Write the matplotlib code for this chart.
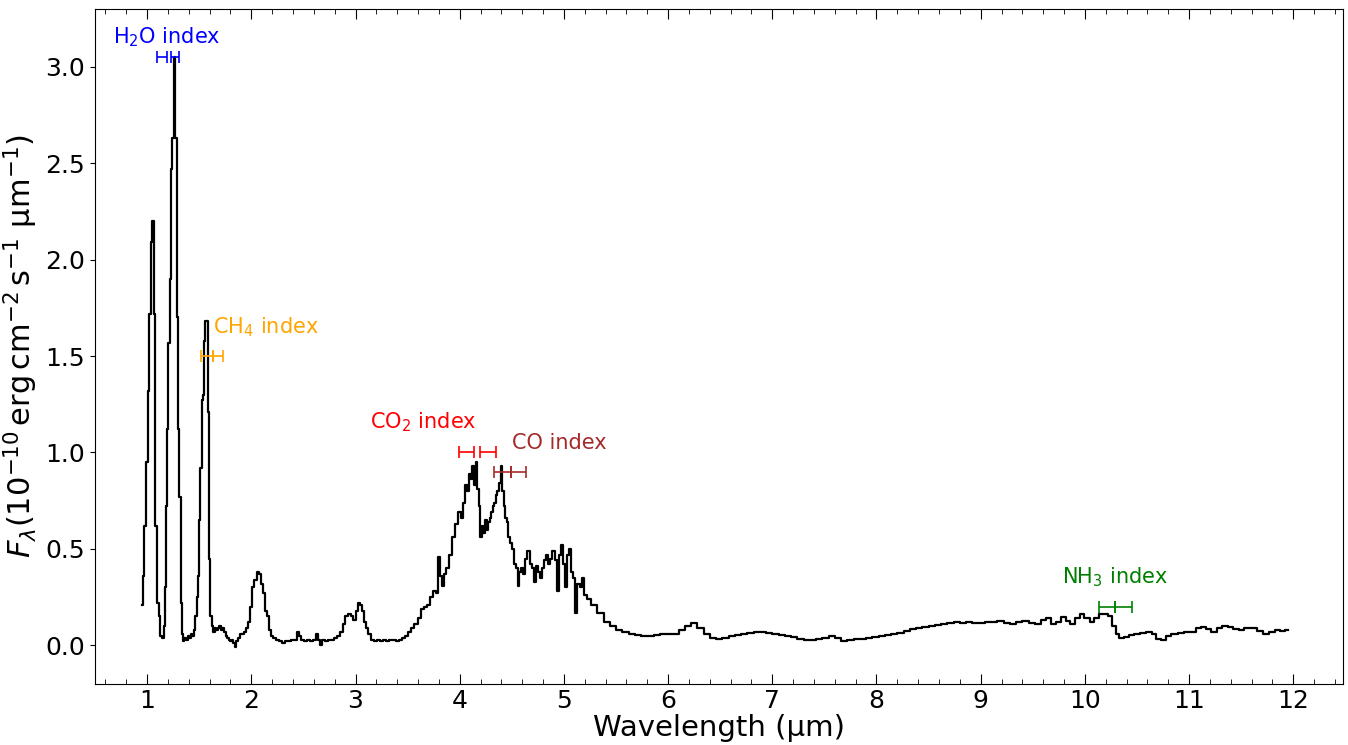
import numpy as np
import matplotlib
matplotlib.use("Agg")
import matplotlib.pyplot as plt
from matplotlib.ticker import MultipleLocator

# spectrum (wavelength in micron, flux in 1e-10 units)
wl = [0.952, 0.967, 0.982, 0.997, 1.012, 1.027, 1.042, 1.057, 1.072, 1.087,
      1.102, 1.117, 1.132, 1.150, 1.165, 1.175, 1.190, 1.200, 1.210, 1.222,
      1.235, 1.248, 1.262, 1.276, 1.290, 1.302, 1.315, 1.327, 1.339, 1.351,
      1.365, 1.380, 1.395, 1.410, 1.425, 1.440, 1.455, 1.468, 1.480, 1.492,
      1.504, 1.516, 1.528, 1.540, 1.552, 1.564, 1.576, 1.588, 1.600, 1.612,
      1.625, 1.640, 1.655, 1.670, 1.685, 1.700, 1.715, 1.730, 1.745, 1.760,
      1.775, 1.790, 1.805, 1.820, 1.835, 1.850, 1.865, 1.880, 1.900, 1.920,
      1.940, 1.960, 1.980, 2.000, 2.020, 2.040, 2.060, 2.080, 2.100, 2.120,
      2.140, 2.160, 2.180, 2.200, 2.220, 2.250, 2.280, 2.310, 2.340, 2.370,
      2.400, 2.430, 2.450, 2.470, 2.490, 2.520, 2.550, 2.580, 2.610, 2.630,
      2.650, 2.670, 2.690, 2.720, 2.750, 2.780, 2.810, 2.840, 2.870, 2.890,
      2.910, 2.940, 2.970, 2.990, 3.010, 3.030, 3.050, 3.070, 3.090, 3.110,
      3.130, 3.160, 3.190, 3.220, 3.250, 3.280, 3.310, 3.340, 3.370, 3.400,
      3.430, 3.460, 3.490, 3.520, 3.550, 3.580, 3.610, 3.640, 3.670, 3.700,
      3.730, 3.760, 3.780, 3.800, 3.820, 3.840, 3.860, 3.880, 3.910, 3.940,
      3.970, 4.000, 4.020, 4.040, 4.060, 4.080, 4.100, 4.115, 4.130, 4.145,
      4.160, 4.175, 4.190, 4.205, 4.220, 4.235, 4.250, 4.265, 4.280, 4.295,
      4.310, 4.325, 4.340, 4.355, 4.370, 4.385, 4.400, 4.415, 4.430, 4.445,
      4.460, 4.475, 4.490, 4.510, 4.530, 4.550, 4.565, 4.580, 4.600, 4.620,
      4.640, 4.660, 4.680, 4.700, 4.720, 4.740, 4.760, 4.780, 4.800, 4.820,
      4.840, 4.860, 4.880, 4.900, 4.920, 4.940, 4.960, 4.980, 5.000, 5.020,
      5.040, 5.060, 5.080, 5.100, 5.120, 5.140, 5.160, 5.180, 5.200, 5.235,
      5.290, 5.350, 5.410, 5.470, 5.530, 5.590, 5.650, 5.710, 5.770, 5.830,
      5.890, 5.950, 6.010, 6.070, 6.130, 6.190, 6.250, 6.310, 6.370, 6.430,
      6.490, 6.550, 6.610, 6.670, 6.730, 6.790, 6.850, 6.910, 6.970, 7.030,
      7.090, 7.150, 7.210, 7.270, 7.330, 7.390, 7.450, 7.510, 7.570, 7.630,
      7.690, 7.750, 7.810, 7.870, 7.930, 7.990, 8.050, 8.110, 8.170, 8.230,
      8.290, 8.350, 8.410, 8.470, 8.530, 8.590, 8.650, 8.710, 8.770, 8.830,
      8.890, 8.950, 9.010, 9.070, 9.130, 9.190, 9.250, 9.310, 9.370, 9.430,
      9.490, 9.550, 9.610, 9.650, 9.700, 9.750, 9.790, 9.840, 9.880, 9.930,
      9.970, 10.020, 10.070, 10.110, 10.160, 10.200, 10.240, 10.280, 10.310, 10.350,
      10.400, 10.450, 10.500, 10.560, 10.620, 10.660, 10.710, 10.750, 10.800, 10.860,
      10.920, 10.980, 11.040, 11.090, 11.140, 11.190, 11.240, 11.290, 11.340, 11.400,
      11.450, 11.500, 11.560, 11.620, 11.680, 11.740, 11.790, 11.850, 11.900, 11.950]
flux = [0.21, 0.36, 0.62, 0.95, 1.32, 1.72, 2.09, 2.20, 1.72, 0.62,
        0.22, 0.15, 0.05, 0.04, 0.10, 0.30, 0.72, 1.12, 1.57, 1.90,
        2.47, 2.63, 3.05, 2.63, 1.70, 1.12, 0.77, 0.22, 0.06, 0.02,
        0.04, 0.03, 0.05, 0.04, 0.06, 0.05, 0.08, 0.15, 0.25, 0.36,
        0.65, 0.92, 1.27, 1.30, 1.58, 1.68, 1.68, 1.21, 0.45, 0.15,
        0.10, 0.07, 0.09, 0.08, 0.09, 0.10, 0.08, 0.09, 0.07, 0.05,
        0.04, 0.03, 0.02, 0.03, 0.01, -0.01, 0.02, 0.04, 0.06, 0.06,
        0.07, 0.09, 0.12, 0.20, 0.30, 0.34, 0.38, 0.37, 0.32, 0.27,
        0.18, 0.15, 0.08, 0.05, 0.04, 0.03, 0.02, 0.01, 0.02, 0.02,
        0.03, 0.03, 0.07, 0.05, 0.03, 0.02, 0.03, 0.02, 0.03, 0.06,
        0.03, 0.00, 0.03, 0.02, 0.03, 0.03, 0.04, 0.05, 0.07, 0.11,
        0.15, 0.16, 0.15, 0.13, 0.18, 0.22, 0.21, 0.18, 0.12, 0.09,
        0.06, 0.03, 0.02, 0.03, 0.02, 0.03, 0.02, 0.03, 0.03, 0.02,
        0.03, 0.04, 0.05, 0.07, 0.09, 0.11, 0.14, 0.19, 0.20, 0.21,
        0.25, 0.28, 0.27, 0.46, 0.36, 0.31, 0.37, 0.40, 0.47, 0.56,
        0.63, 0.69, 0.66, 0.74, 0.83, 0.80, 0.89, 0.86, 0.93, 0.83,
        0.95, 0.81, 0.72, 0.56, 0.62, 0.58, 0.65, 0.60, 0.64, 0.66,
        0.69, 0.72, 0.74, 0.78, 0.80, 0.84, 0.93, 0.80, 0.72, 0.66,
        0.64, 0.56, 0.53, 0.50, 0.42, 0.40, 0.31, 0.38, 0.40, 0.37,
        0.45, 0.49, 0.42, 0.40, 0.33, 0.41, 0.38, 0.35, 0.40, 0.44,
        0.47, 0.42, 0.45, 0.49, 0.44, 0.28, 0.47, 0.52, 0.42, 0.30,
        0.47, 0.50, 0.38, 0.35, 0.17, 0.32, 0.30, 0.35, 0.26, 0.24,
        0.21, 0.17, 0.12, 0.10, 0.08, 0.07, 0.06, 0.055, 0.05, 0.05,
        0.055, 0.06, 0.06, 0.06, 0.08, 0.10, 0.115, 0.09, 0.06, 0.04,
        0.035, 0.04, 0.05, 0.055, 0.06, 0.065, 0.07, 0.07, 0.065, 0.06,
        0.055, 0.05, 0.045, 0.035, 0.03, 0.03, 0.035, 0.04, 0.05, 0.04,
        0.025, 0.03, 0.035, 0.035, 0.04, 0.045, 0.05, 0.055, 0.06, 0.065,
        0.075, 0.085, 0.09, 0.095, 0.10, 0.105, 0.11, 0.115, 0.12, 0.115,
        0.12, 0.115, 0.115, 0.12, 0.12, 0.125, 0.115, 0.11, 0.12, 0.125,
        0.115, 0.11, 0.13, 0.14, 0.11, 0.12, 0.145, 0.125, 0.11, 0.14,
        0.16, 0.14, 0.12, 0.14, 0.165, 0.165, 0.15, 0.10, 0.06, 0.04,
        0.045, 0.055, 0.06, 0.065, 0.07, 0.06, 0.035, 0.03, 0.05, 0.06,
        0.065, 0.07, 0.07, 0.09, 0.095, 0.085, 0.07, 0.09, 0.10, 0.095,
        0.085, 0.08, 0.09, 0.09, 0.075, 0.06, 0.07, 0.08, 0.075, 0.08]

# spectral index windows
idx_names = ["H$_2$O index", "CH$_4$ index", "CO$_2$ index", "CO index", "NH$_3$ index"]
idx_colors = ["blue", "orange", "red", "brown", "green"]
idx_levels = [3.05, 1.5, 1.0, 0.9, 0.2]
idx_windows = [[(1.09, 1.19), (1.23, 1.31)],
               [(1.52, 1.63), (1.63, 1.73)],
               [(3.99, 4.14), (4.19, 4.35)],
               [(4.33, 4.49), (4.49, 4.64)],
               [(10.14, 10.29), (10.29, 10.45)]]
idx_text_x = [0.67, 1.63, 3.14, 4.50, 9.78]
idx_text_y = [3.12, 1.62, 1.125, 1.02, 0.32]

fig = plt.figure(figsize=(13.48, 7.45), dpi=100)
ax = fig.add_axes([0.0705, 0.082, 0.926, 0.906])

ax.plot(wl, flux, color="black", lw=1.6, drawstyle="steps-mid")

for name, c, lev, wins, tx, ty in zip(idx_names, idx_colors, idx_levels,
                                      idx_windows, idx_text_x, idx_text_y):
    for a, b in wins:
        ax.errorbar([(a + b) / 2], [lev], xerr=[(b - a) / 2], color=c,
                    lw=1.2, capsize=4, capthick=1.2, fmt="none")
    ax.text(tx, ty, name, color=c, fontsize=15, ha="left", va="baseline")

ax.set_xlim(0.5, 12.48)
ax.set_ylim(-0.2, 3.3)
ax.xaxis.set_major_locator(MultipleLocator(1))
ax.xaxis.set_minor_locator(MultipleLocator(0.2))
ax.tick_params(axis="x", which="both", direction="in", top=True, labelsize=18)
ax.tick_params(axis="x", which="major", length=7)
ax.tick_params(axis="x", which="minor", length=3.5)
ax.tick_params(axis="y", labelsize=18)

ax.set_xlabel("Wavelength (µm)", fontsize=21, labelpad=1)
ax.set_ylabel(r"$F_\lambda(10^{-10}\,\mathrm{erg\,cm^{-2}\,s^{-1}}$ µm$^{-1})$",
              fontsize=22, labelpad=4)

fig.savefig("out.png", dpi=100)
